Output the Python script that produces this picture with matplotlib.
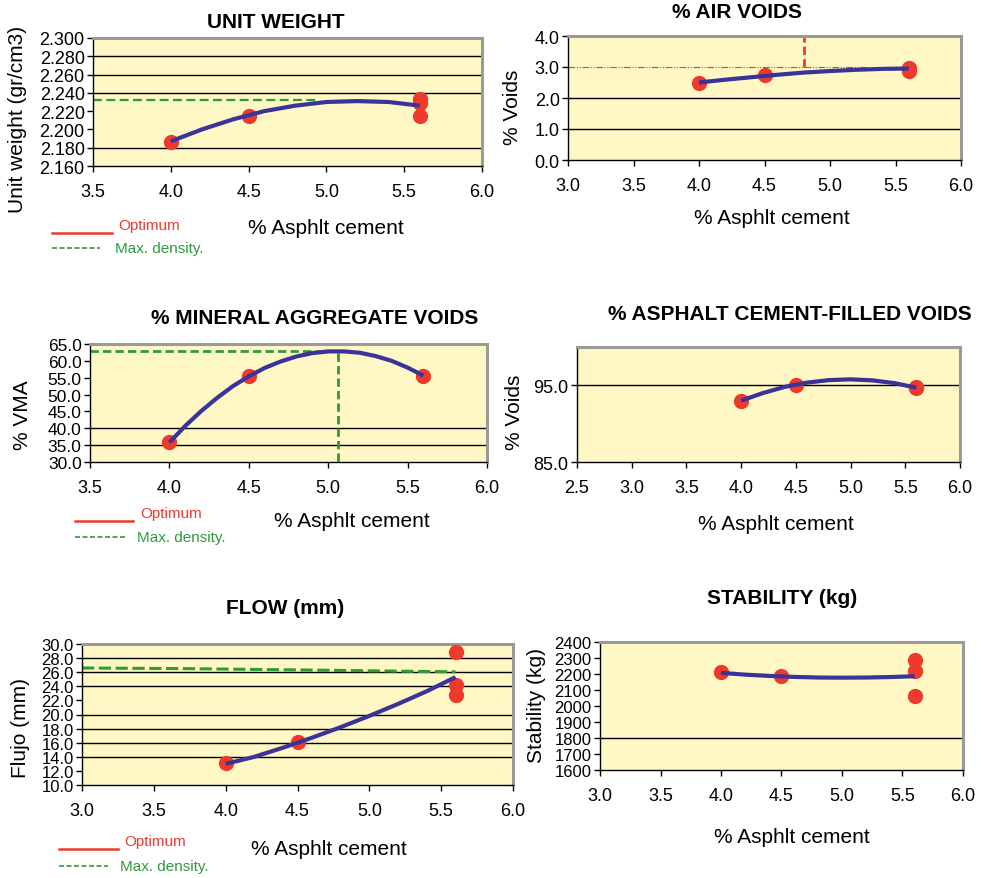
import numpy as np
import matplotlib.pyplot as plt
from matplotlib.lines import Line2D

plt.rcParams['font.family'] = ['Liberation Sans', 'DejaVu Sans']

# ---- data ----
ac_pts = [4.0, 4.5, 5.6, 5.6, 5.6]
curve_x = [4.0, 4.2, 4.4, 4.6, 4.8, 5.0, 5.2, 5.4, 5.6]

uw_pts = [2.186, 2.215, 2.233, 2.229, 2.215]
uw_curve = [2.187, 2.200, 2.211, 2.220, 2.226, 2.230, 2.231, 2.230, 2.226]
uw_maxdens_x = [3.5, 4.95]
uw_maxdens_y = [2.2326, 2.2326]

av_pts = [2.50, 2.74, 2.98, 2.92, 2.88]
av_curve = [2.50, 2.59, 2.67, 2.75, 2.82, 2.87, 2.91, 2.94, 2.95]
av_target = 3.0
av_opt = 4.8

vma_x = [4.0, 4.5, 5.6]
vma_pts = [35.8, 55.4, 55.6]
vma_curve_x = [4.0, 4.1, 4.2, 4.3, 4.4, 4.5, 4.6, 4.7, 4.8, 4.9, 5.0, 5.1, 5.2, 5.3, 5.4, 5.5, 5.6]
vma_curve = [35.8, 40.7, 45.1, 49.0, 52.5, 55.4, 57.9, 59.8, 61.3, 62.3, 62.8, 62.8, 62.4, 61.4, 60.0, 58.0, 55.6]
vma_max = 63.0
vma_max_ac = 5.06

vfa_x = [4.0, 4.5, 5.6, 5.6]
vfa_pts = [93.0, 95.1, 94.8, 94.6]
vfa_curve = [93.0, 94.0, 94.8, 95.35, 95.68, 95.78, 95.65, 95.29, 94.7]

flow_pts = [13.1, 16.1, 28.8, 24.2, 22.8]
flow_curve = [13.0, 14.0, 15.3, 16.7, 18.2, 19.8, 21.5, 23.3, 25.3]
flow_maxdens_x = [3.0, 3.75, 4.6, 5.6]
flow_maxdens_y = [26.6, 26.5, 26.3, 26.05]

stab_pts = [2210, 2187, 2289, 2218, 2060]
stab_curve = [2207, 2196, 2188, 2182, 2178, 2177, 2178, 2181, 2186]

RED = '#EE3A2C'
NAVY = '#3A3399'
GREEN = '#2F9A3C'
BG = '#FFF8C4'

W, H = 981, 879
fig = plt.figure(figsize=(W / 100, H / 100), dpi=100)


def px_axes(l, r, t, b):
    return fig.add_axes([l / W, 1 - b / H, (r - l) / W, (b - t) / H])


def style(ax, xlim, xticks, ylim, yticks, yfmt, grid, tsize=13):
    ax.set_facecolor(BG)
    ax.set_xlim(*xlim)
    ax.set_ylim(*ylim)
    ax.set_xticks(xticks)
    ax.set_xticklabels(['%.1f' % v for v in xticks])
    ax.set_yticks(yticks)
    ax.set_yticklabels([yfmt % v for v in yticks])
    ax.tick_params(direction='out', length=4, width=1, labelsize=tsize, pad=2)
    ax.tick_params(axis='x', pad=8, labelsize=13)
    for s in ['left', 'bottom']:
        ax.spines[s].set_color('black')
        ax.spines[s].set_linewidth(1)
    for s in ['top', 'right']:
        ax.spines[s].set_color('#9a9a9a')
        ax.spines[s].set_linewidth(2.2)
    for g in grid:
        ax.axhline(g, color='black', lw=1, zorder=1)


def data(ax, xp, yp, cx, cy):
    ax.plot(xp, yp, 'o', color=RED, ms=10, zorder=3, clip_on=False)
    ax.plot(cx, cy, color=NAVY, lw=3, zorder=4, solid_capstyle='butt')


def ftext(x, y, s, **kw):
    fig.text(x / W, 1 - y / H, s, **kw)


def legend(x0, x1, x2, y1, tx1, ty1, tx2, ty2):
    fig.add_artist(Line2D([x0 / W, x1 / W], [1 - y1 / H] * 2, color=RED, lw=1.8))
    fig.add_artist(Line2D([x0 / W, x2 / W], [1 - ty2 / H] * 2, color=GREEN, lw=1.2, ls=(0, (3, 1.5))))
    ftext(tx1, ty1, 'Optimum', color=RED, fontsize=11, va='center')
    ftext(tx2, ty2, 'Max. density.', color=GREEN, fontsize=11, va='center')


# ---- Unit weight ----
ax1 = px_axes(93, 482, 39, 167)
style(ax1, (3.5, 6.0), np.arange(3.5, 6.01, 0.5), (2.16, 2.30),
      np.arange(2.16, 2.3001, 0.02), '%.3f', [2.18, 2.24, 2.26, 2.28])
ax1.plot(uw_maxdens_x, uw_maxdens_y, color=GREEN, lw=1.6, ls=(0, (4, 2)), zorder=2)
data(ax1, ac_pts, uw_pts, curve_x, uw_curve)
ftext(276, 22, 'UNIT WEIGHT', fontsize=15, fontweight='bold', ha='center', va='center')
ftext(18, 119, 'Unit weight (gr/cm3)', fontsize=15, rotation=90, ha='center', va='center')
ftext(326, 228, '% Asphlt cement', fontsize=15, ha='center', va='center')
legend(52, 112, 100, 234, 118, 226, 115, 249)

# ---- Air voids ----
ax2 = px_axes(568, 961, 37, 161)
style(ax2, (3.0, 6.0), np.arange(3.0, 6.01, 0.5), (0, 4.0),
      np.arange(0, 4.01, 1.0), '%.1f', [1.0, 2.0])
ax2.plot([3.0, 5.3], [av_target, av_target], color=RED, lw=0.8,
         ls=(0, (6, 1.5, 1, 1.5, 1, 1.5)), zorder=2)
ax2.plot([av_opt, av_opt], [av_target, 4.0], color=RED, lw=2, ls=(0, (3, 1.5)), zorder=2)
data(ax2, ac_pts, av_pts, curve_x, av_curve)
ftext(737, 12, '% AIR VOIDS', fontsize=15, fontweight='bold', ha='center', va='center')
ftext(513, 107, '% Voids', fontsize=15, rotation=90, ha='center', va='center')
ftext(772, 218, '% Asphlt cement', fontsize=15, ha='center', va='center')

# ---- VMA ----
ax3 = px_axes(90, 487, 345, 463)
style(ax3, (3.5, 6.0), np.arange(3.5, 6.01, 0.5), (30, 65),
      np.arange(30, 65.01, 5), '%.1f', [35, 40, 65], tsize=12.5)
ax3.plot([3.5, vma_max_ac, vma_max_ac], [vma_max, vma_max, 30], color=GREEN,
         lw=2, ls=(0, (3, 1.5)), zorder=2)
data(ax3, vma_x, vma_pts, vma_curve_x, vma_curve)
ftext(315, 318, '% MINERAL AGGREGATE VOIDS', fontsize=15, fontweight='bold', ha='center', va='center')
ftext(22, 415, '% VMA', fontsize=15, rotation=90, ha='center', va='center')
ftext(352, 522, '% Asphlt cement', fontsize=15, ha='center', va='center')
legend(75, 133, 125, 522, 140, 514, 137, 538)

# ---- VFA ----
ax4 = px_axes(577, 960, 348, 463)
style(ax4, (2.5, 6.0), np.arange(2.5, 6.01, 0.5), (85, 100),
      [85.0, 95.0], '%.1f', [95])
ax4.plot([4.8, 5.0], [95.85, 95.85], color=GREEN, lw=2, ls=(0, (3, 1.5)), zorder=2)
data(ax4, vfa_x, vfa_pts, curve_x, vfa_curve)
ftext(790, 315, '% ASPHALT CEMENT-FILLED VOIDS', fontsize=15, fontweight='bold', ha='center', va='center')
ftext(514, 412, '% Voids', fontsize=15, rotation=90, ha='center', va='center')
ftext(776, 525, '% Asphlt cement', fontsize=15, ha='center', va='center')

# ---- Flow ----
ax5 = px_axes(82, 513, 645, 786)
style(ax5, (3.0, 6.0), np.arange(3.0, 6.01, 0.5), (10, 30),
      np.arange(10, 30.01, 2), '%.1f', [14, 16, 18, 20, 24, 26, 28], tsize=12)
ax5.plot(flow_maxdens_x, flow_maxdens_y, color=GREEN, lw=2.2, ls=(0, (4, 1.5)), zorder=2)
data(ax5, ac_pts, flow_pts, curve_x, flow_curve)
ftext(285, 608, 'FLOW (mm)', fontsize=15, fontweight='bold', ha='center', va='center')
ftext(21, 728, 'Flujo (mm)', fontsize=15, rotation=90, ha='center', va='center')
ftext(329, 850, '% Asphlt cement', fontsize=15, ha='center', va='center')
legend(59, 118, 108, 850, 124, 842, 120, 867)

# ---- Stability ----
ax6 = px_axes(600, 963, 643, 771)
style(ax6, (3.0, 6.0), np.arange(3.0, 6.01, 0.5), (1600, 2400),
      np.arange(1600, 2401, 100), '%d', [1800], tsize=12)
data(ax6, ac_pts, stab_pts, curve_x, stab_curve)
ftext(782, 598, 'STABILITY (kg)', fontsize=15, fontweight='bold', ha='center', va='center')
ftext(536, 706, 'Stability (kg)', fontsize=15, rotation=90, ha='center', va='center')
ftext(792, 838, '% Asphlt cement', fontsize=15, ha='center', va='center')

fig.savefig('out.png', dpi=100, facecolor='white')
